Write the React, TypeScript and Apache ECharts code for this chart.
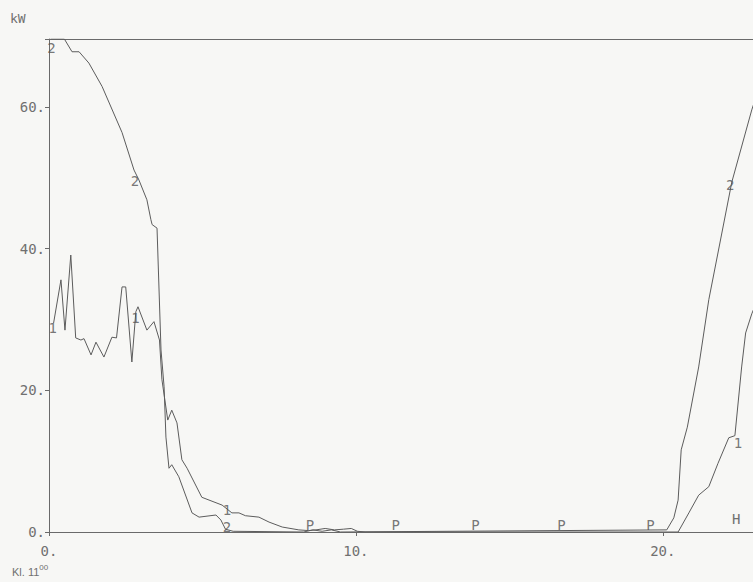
import React, { useEffect, useRef } from "react";
import * as echarts from "echarts";

// Load curve 1 over the day: [hour, kW]
const curve1: [number, number][] = [
  [0.15, 29.5], [0.39, 35.6], [0.52, 28.5], [0.71, 39.1], [0.87, 27.4], [1.04, 27.1],
  [1.14, 27.3], [1.37, 25.0], [1.53, 26.8], [1.79, 24.7], [2.05, 27.5], [2.2, 27.4],
  [2.38, 34.6], [2.5, 34.6], [2.7, 24.0], [2.83, 31.1], [2.9, 31.8], [3.19, 28.5],
  [3.42, 29.7], [3.6, 27.1], [3.68, 21.5], [3.87, 15.8], [4.0, 17.2], [4.17, 15.4],
  [4.33, 10.2], [4.5, 9.0], [4.98, 4.9], [5.64, 3.8], [5.96, 2.7], [6.19, 2.7],
  [6.4, 2.3], [6.84, 2.1], [7.17, 1.4], [7.6, 0.7], [8.14, 0.3], [8.45, 0.2],
  [8.7, 0.3], [9.0, 0.5], [9.3, 0.3], [9.6, 0.4], [9.85, 0.5], [10.05, 0.1],
  [10.3, 0], [20.5, 0], [20.85, 2.7], [21.17, 5.2], [21.5, 6.4], [21.8, 9.7],
  [22.15, 13.3], [22.35, 13.6], [22.57, 23.3], [22.7, 28.1], [22.9, 30.8], [23.2, 34.0],
];

// Load curve 2 over the day: [hour, kW]
const curve2: [number, number][] = [
  [0.05, 69.6], [0.5, 69.6], [0.75, 67.8], [0.98, 67.8], [1.3, 66.2], [1.73, 62.9],
  [2.02, 60.0], [2.38, 56.4], [2.77, 51.1], [2.93, 49.7], [3.19, 46.9], [3.32, 44.1],
  [3.36, 43.4], [3.52, 42.9], [3.65, 25.7], [3.75, 20.5], [3.81, 13.4], [3.91, 9.0],
  [4.0, 9.5], [4.23, 7.8], [4.66, 2.7], [4.89, 2.1], [5.44, 2.4], [5.6, 1.7],
  [5.75, 0.4], [6.0, 0.1], [8.3, 0], [8.6, 0.3], [8.9, 0.1], [9.2, 0.3], [9.5, 0],
  [20.13, 0.3], [20.36, 2.0], [20.5, 4.5], [20.6, 11.6], [20.8, 14.8], [21.17, 23.3],
  [21.5, 32.8], [22.25, 49.4], [22.9, 59.6], [23.2, 63.5],
];

// Curve number tags written along the lines
const tags1: [number, number][] = [[0.12, 28.8], [2.82, 30.2], [5.8, 3.1], [22.45, 12.6]];
const tags2: [number, number][] = [[0.08, 68.4], [2.8, 49.6], [5.8, 0.7], [22.2, 49.0]];
// "P" markers along the time axis
const pMarks: [number, number][] = [[8.5, 1.0], [11.3, 1.0], [13.9, 1.0], [16.7, 1.0], [19.6, 1.0]];

const yTicks = [0, 20, 40, 60];
const xTicks = [0, 10, 20];

const X_MAX = 22.94;
const Y_MAX = 69.6;

const INK = "#5c5c5c";
const FRAME = "#6a6a6a";
const TEXT = "#707070";
const FONT = "DejaVu Sans Mono";

const tagSeries = (name: string, data: [number, number][], text: string) => ({
  name,
  type: "scatter",
  data,
  symbol: "circle",
  symbolSize: 1,
  itemStyle: { color: "rgba(0,0,0,0)" },
  silent: true,
  label: {
    show: true,
    position: "inside",
    formatter: () => text,
    color: "#555555",
    fontFamily: FONT,
    fontSize: 14,
  },
  z: 5,
});

export default function App() {
  const ref = useRef<HTMLDivElement>(null);

  useEffect(() => {
    if (!ref.current) return;
    const chart = echarts.init(ref.current, null, { renderer: "svg" });
    chart.setOption({
      animation: false,
      backgroundColor: "#f7f7f5",
      grid: { left: 49, top: 39, bottom: 50, right: 0 },
      xAxis: [
        {
          type: "value",
          min: 0,
          max: X_MAX,
          interval: 10,
          axisLine: { show: true, lineStyle: { color: FRAME, width: 1 } },
          axisTick: { show: true, length: 4, lineStyle: { color: FRAME } },
          splitLine: { show: false },
          axisLabel: {
            margin: 12,
            color: TEXT,
            fontFamily: FONT,
            fontSize: 14,
            showMaxLabel: false,
            formatter: (v: number) => (xTicks.includes(v) ? `${v}.` : ""),
          },
        },
        {
          // top frame line
          type: "value",
          position: "top",
          min: 0,
          max: X_MAX,
          axisLine: { show: true, onZero: false, lineStyle: { color: FRAME, width: 1 } },
          axisTick: { show: false },
          axisLabel: { show: false },
          splitLine: { show: false },
        },
      ],
      yAxis: {
        type: "value",
        min: 0,
        max: Y_MAX,
        interval: 20,
        axisLine: { show: true, lineStyle: { color: FRAME, width: 1 } },
        axisTick: { show: true, length: 4, lineStyle: { color: FRAME } },
        splitLine: { show: false },
        axisLabel: {
          margin: 4,
          color: TEXT,
          fontFamily: FONT,
          fontSize: 14,
          formatter: (v: number) => (yTicks.includes(v) ? `${v}.` : ""),
        },
      },
      series: [
        {
          name: "1",
          type: "line",
          data: curve1,
          showSymbol: false,
          clip: true,
          lineStyle: { color: INK, width: 1 },
          z: 3,
        },
        {
          name: "2",
          type: "line",
          data: curve2,
          showSymbol: false,
          clip: true,
          lineStyle: { color: INK, width: 1 },
          z: 3,
        },
        tagSeries("tag1", tags1, "1"),
        tagSeries("tag2", tags2, "2"),
        tagSeries("P", pMarks, "P"),
      ],
      graphic: [
        {
          type: "text",
          left: 10,
          top: 12,
          style: { text: "kW", fill: TEXT, font: `13px '${FONT}'` },
        },
        {
          type: "text",
          left: 732,
          top: 512,
          style: { text: "H", fill: TEXT, font: `14px '${FONT}'` },
        },
        {
          type: "text",
          left: 12,
          top: 563,
          style: {
            text: "{a|Kl. 11}{b|00}",
            rich: {
              a: { fill: TEXT, fontFamily: "Liberation Sans", fontSize: 11, verticalAlign: "bottom" },
              b: { fill: TEXT, fontFamily: "Liberation Sans", fontSize: 8, verticalAlign: "top", padding: [0, 0, 6, 0] },
            },
          },
        },
      ],
    });
    return () => chart.dispose();
  }, []);

  return (
    <div
      ref={ref}
      style={{ position: "absolute", left: 0, top: 0, width: 753, height: 582 }}
    />
  );
}
